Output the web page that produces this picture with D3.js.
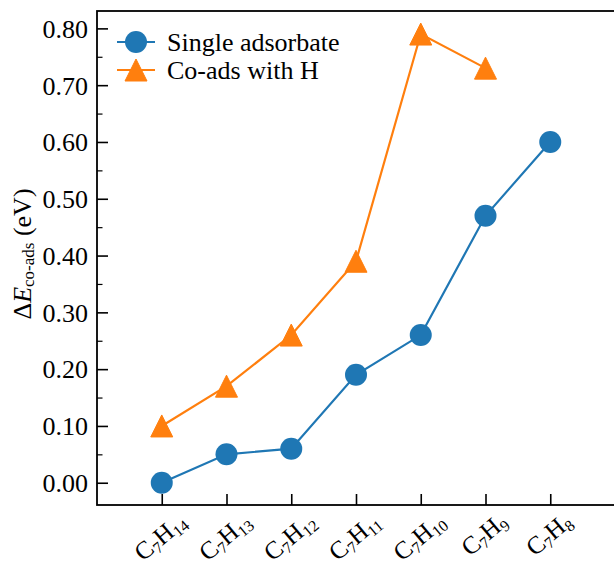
<!DOCTYPE html>
<html>
<head>
<meta charset="utf-8">
<script src="https://cdn.jsdelivr.net/npm/d3@7"></script>
<style>
  html, body { margin: 0; padding: 0; background: #fff; }
  svg { display: block; }
  svg text { font-family: "Liberation Serif", "DejaVu Serif", serif; }
</style>
</head>
<body>
<svg id="chart" width="614" height="565"></svg>
<script>
// Adsorbate species along the dehydrogenation path (C7H14 -> C7H8)
const categories = [
  { c: "7", h: "14" }, { c: "7", h: "13" }, { c: "7", h: "12" },
  { c: "7", h: "11" }, { c: "7", h: "10" }, { c: "7", h: "9" }, { c: "7", h: "8" }
];
// Co-adsorption energy differences (eV)
const singleAdsorbate = [0.00, 0.05, 0.06, 0.19, 0.26, 0.47, 0.60];
const coadsWithH = [0.10, 0.17, 0.26, 0.39, 0.79, 0.73];
const yTicks = [0.00, 0.10, 0.20, 0.30, 0.40, 0.50, 0.60, 0.70, 0.80];
const yMinorTicks = [0.05, 0.15, 0.25, 0.35, 0.45, 0.55, 0.65, 0.75];
const seriesNames = ["Single adsorbate", "Co-ads with H"];
const colors = ["#1f77b4", "#ff7f0e"];

const svg = d3.select("#chart");
const plot = { left: 97, right: 615, top: 11, bottom: 505 };

const x = d3.scaleLinear().domain([-1, 7]).range([plot.left, plot.right]);
const y = d3.scaleLinear().domain([-0.0392, 0.8306]).range([plot.bottom, plot.top]);

const fontSize = 26;
const subSize = 17;
const markerSize = 22;

// Left axis: inward major and minor ticks
const yAxis = d3.axisLeft(y).tickValues(yTicks).tickFormat(d3.format(".2f"))
  .tickSizeInner(-11).tickSizeOuter(0).tickPadding(9);
const gy = svg.append("g").attr("transform", `translate(${plot.left},0)`).call(yAxis);
gy.attr("font-family", null).attr("font-size", null);
gy.select(".domain").remove();
gy.selectAll(".tick line").attr("stroke", "#000").attr("stroke-width", 1.6);
gy.selectAll(".tick text").style("font-size", fontSize + "px").attr("fill", "#000")
  .attr("dy", "0.34em");

const yMinor = d3.axisLeft(y).tickValues(yMinorTicks).tickFormat("")
  .tickSizeInner(-5.5).tickSizeOuter(0);
const gym = svg.append("g").attr("transform", `translate(${plot.left},0)`).call(yMinor);
gym.select(".domain").remove();
gym.selectAll(".tick line").attr("stroke", "#000").attr("stroke-width", 1.2);

// Bottom axis: inward ticks at each species
const xAxis = d3.axisBottom(x).tickValues(d3.range(categories.length)).tickFormat("")
  .tickSizeInner(-11).tickSizeOuter(0);
const gx = svg.append("g").attr("transform", `translate(0,${plot.bottom})`).call(xAxis);
gx.select(".domain").remove();
gx.selectAll(".tick line").attr("stroke", "#000").attr("stroke-width", 1.6);

// Frame
svg.append("rect")
  .attr("x", plot.left).attr("y", plot.top)
  .attr("width", plot.right - plot.left).attr("height", plot.bottom - plot.top)
  .attr("fill", "none").attr("stroke", "#000").attr("stroke-width", 1.8);

// Rotated formula labels, centred under each tick
const labelSize = 25, labelSub = 16;
const labelTop = 512;
const labelAngle = 40 * Math.PI / 180;
const inkHeight = 20;
categories.forEach((cat, i) => {
  const g = svg.append("g");
  const t = g.append("text")
    .style("font-size", labelSize + "px")
    .attr("text-anchor", "middle")
    .attr("fill", "#000")
    .attr("x", 0).attr("y", 6);
  t.append("tspan").text("C");
  t.append("tspan").style("font-size", labelSub + "px").attr("dy", 4).text(cat.c);
  t.append("tspan").attr("dy", -4).text("H");
  t.append("tspan").style("font-size", labelSub + "px").attr("dy", 4).text(cat.h);
  const w = t.node().getComputedTextLength();
  const rotH = w * Math.sin(labelAngle) + inkHeight * Math.cos(labelAngle);
  g.attr("transform", `translate(${x(i)},${labelTop + rotH / 2}) rotate(-40)`);
});

// Series lines and markers
const line = d3.line().x((d, i) => x(i)).y(d => y(d));

function triangle(cx, cy, s) {
  const r = s / 2;
  return `M${cx},${cy - r}L${cx - r},${cy + r}L${cx + r},${cy + r}Z`;
}

svg.append("path").datum(singleAdsorbate).attr("d", line)
  .attr("fill", "none").attr("stroke", colors[0]).attr("stroke-width", 2.2);
svg.append("path").datum(coadsWithH).attr("d", line)
  .attr("fill", "none").attr("stroke", colors[1]).attr("stroke-width", 2.2);

svg.append("g").selectAll("circle").data(singleAdsorbate).join("circle")
  .attr("cx", (d, i) => x(i)).attr("cy", d => y(d)).attr("r", markerSize / 2)
  .attr("fill", colors[0]);
svg.append("g").selectAll("path").data(coadsWithH).join("path")
  .attr("d", (d, i) => triangle(x(i), y(d), markerSize))
  .attr("fill", colors[1]).attr("stroke", colors[1]).attr("stroke-width", 1);

// Legend
const legendRows = [42, 70];
seriesNames.forEach((name, k) => {
  const ly = legendRows[k];
  svg.append("line").attr("x1", 117).attr("x2", 155).attr("y1", ly).attr("y2", ly)
    .attr("stroke", colors[k]).attr("stroke-width", 2.2);
  if (k === 0) {
    svg.append("circle").attr("cx", 136).attr("cy", ly).attr("r", markerSize / 2).attr("fill", colors[k]);
  } else {
    svg.append("path").attr("d", triangle(136, ly, markerSize))
      .attr("fill", colors[k]).attr("stroke", colors[k]).attr("stroke-width", 1);
  }
  svg.append("text").attr("x", 167).attr("y", ly).attr("dy", "0.34em")
    .style("font-size", fontSize + "px").attr("fill", "#000").text(name);
});

// Y axis title: ΔE_co-ads (eV)
const yl = svg.append("text")
  .attr("transform", `translate(31,254) rotate(-90)`)
  .attr("text-anchor", "middle")
  .style("font-size", fontSize + "px").attr("fill", "#000");
yl.append("tspan").text("Δ");
yl.append("tspan").style("font-style", "italic").text("E");
yl.append("tspan").style("font-size", subSize + "px").attr("dy", 3).text("co-ads");
yl.append("tspan").attr("dy", -3).text(" (eV)");
</script>
</body>
</html>
